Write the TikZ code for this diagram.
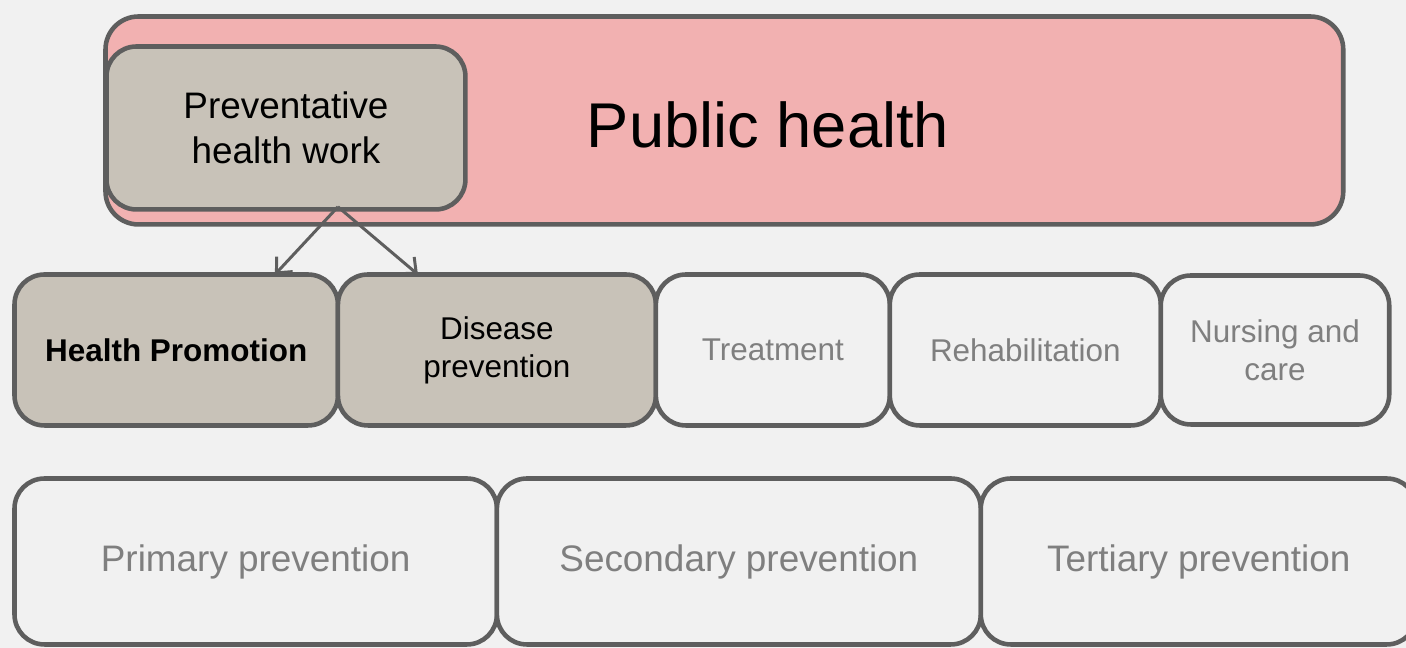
\documentclass[tikz,border=0pt]{standalone}
\usepackage{fontspec}
\setmainfont{Liberation Sans}
\usetikzlibrary{positioning,arrows.meta}

\definecolor{phpink}{HTML}{F2B1B1}
\definecolor{taupe}{HTML}{C8C2B8}
\definecolor{edge}{HTML}{5E5E5E}
\definecolor{faded}{HTML}{7F7F7F}
\definecolor{paper}{HTML}{F1F1F1}

\begin{document}
\begin{tikzpicture}[x=0.02cm,y=-0.02cm]
\tikzset{box/.style={draw=edge, line width=2.6pt, rounded corners=0.6cm, align=center, inner sep=0pt, outer sep=0pt},
	tanbox/.style={box, fill=taupe, text=black},
	palebox/.style={box, fill=paper, text=faded},
	midrow/.style={minimum height=3.02cm, font=\fontsize{17.9}{21.5}\selectfont},
	lowrow/.style={minimum height=3.32cm, font=\fontsize{21}{25}\selectfont},
	fork/.style={draw=edge, line width=1.7pt, -{Straight Barb[length=0.24cm,width=0.44cm]}}}
\fill[paper] (0,0) rectangle (1406,648);
\useasboundingbox (0,0) rectangle (1406,648);

% top: public health with preventative work inside
\node[box, fill=phpink, rounded corners=0.66cm, minimum width=24.76cm, minimum height=4.16cm, anchor=north west] (ph) at (105.5,16.5) {};
\node[font=\fontsize{36}{43}\selectfont] (phlabel) at (768,125) {Public health};
\node[tanbox, minimum width=7.18cm, minimum height=3.26cm, anchor=north west,
	font=\fontsize{21}{25.5}\selectfont] (prev) at (106.5,46.5) {Preventative\\health work};

% middle row
\node[tanbox, midrow, minimum width=6.47cm, anchor=north west] (hp) at (14.5,274.5) {\bfseries Health Promotion};
\node[tanbox, midrow, minimum width=6.36cm, right=0pt of hp] (dp) {Disease\\prevention};
\node[palebox, midrow, minimum width=4.68cm, right=0pt of dp] (treat) {Treatment};
\node[palebox, midrow, minimum width=5.42cm, right=0pt of treat] (rehab) {Rehabilitation};
\node[palebox, midrow, minimum width=4.57cm, minimum height=2.98cm, right=0pt of rehab] (care) {Nursing and\\care};

% bottom row
\node[palebox, lowrow, minimum width=9.65cm, anchor=north west] (primary) at (14.5,478.5) {Primary prevention};
\node[palebox, lowrow, minimum width=9.68cm, right=0pt of primary] (secondary) {Secondary prevention};
\node[palebox, lowrow, minimum width=8.72cm, right=0pt of secondary] (tertiary) {Tertiary prevention};

% arrows
\coordinate (split) at ([yshift=1.5pt]prev.south -| hp.north east);
\draw[fork] (split) -- ([xshift=-1.26cm]hp.north east);
\draw[fork] (split) -- ([xshift=1.6cm]dp.north west);
\end{tikzpicture}
\end{document}
